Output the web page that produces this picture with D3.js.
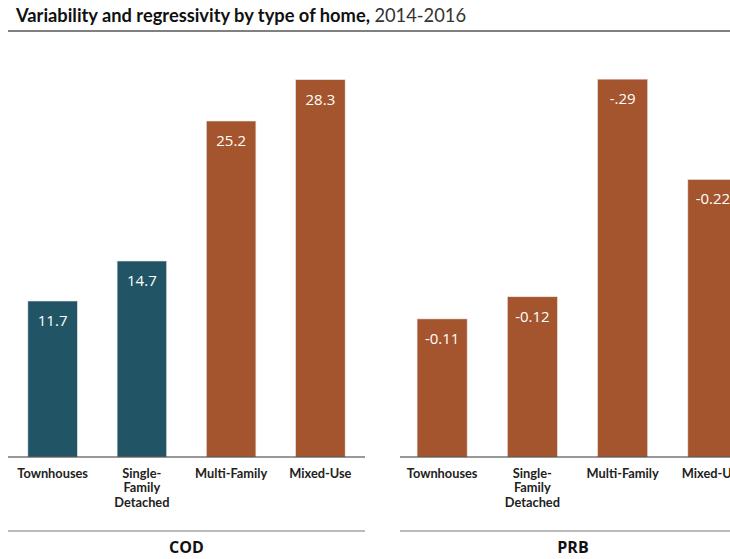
<!DOCTYPE html>
<html>
<head>
  <meta charset="utf-8">
  <script src="https://d3js.org/d3.v7.min.js"></script>
  <style>
    body { margin: 0; background: #fff; }
  </style>
</head>
<body>
<script>

  // categories shared by both panels
  var categories = ["Townhouses", "Single-Family Detached", "Multi-Family", "Mixed-Use"];
  var categoryLines = [["Townhouses"], ["Single-", "Family", "Detached"], ["Multi-Family"], ["Mixed-Use"]];

  // COD panel
  var codValues = [11.7, 14.7, 25.2, 28.3];
  var codLabels = ["11.7", "14.7", "25.2", "28.3"];
  var codColors = ["#215566", "#215566", "#a5552d", "#a5552d"];

  // PRB panel (negative, drawn by magnitude)
  var prbValues = [-0.106, -0.123, -0.29, -0.213];
  var prbLabels = ["-0.11", "-0.12", "-.29", "-0.22"];
  var prbColors = ["#a5552d", "#a5552d", "#a5552d", "#a5552d"];

  var width = 730, height = 559;
  var baseY = 457, topY = 57;
  var catFont = "'Lato', 'DejaVu Sans', sans-serif";

  var svg = d3.select("body").append("svg")
    .attr("width", width)
    .attr("height", height);

  // title
  var title = svg.append("text")
    .attr("x", 16)
    .attr("y", 22)
    .style("font-family", "'Lato', sans-serif")
    .style("font-size", "18.3px")
    .style("fill", "#111");
  title.append("tspan").style("font-weight", "bold").text("Variability and regressivity by type of home, ");
  title.append("tspan").style("font-weight", "normal").style("fill", "#333").text("2014-2016");

  svg.append("line")
    .attr("x1", 8).attr("x2", width)
    .attr("y1", 31).attr("y2", 31)
    .style("stroke", "#808080")
    .style("stroke-width", 2);

  function panel(opts) {
    var x = d3.scaleBand()
      .domain(categories)
      .range(opts.range)
      .paddingInner(0.445)
      .paddingOuter(0.2225);

    var y = d3.scaleLinear()
      .domain([0, opts.max])
      .range([baseY, topY]);

    var g = svg.append("g");

    g.selectAll("rect")
      .data(opts.values)
      .enter().append("rect")
      .attr("x", function(d, i) { return x(categories[i]); })
      .attr("width", x.bandwidth())
      .attr("y", function(d) { return y(Math.abs(d)); })
      .attr("height", function(d) { return baseY - y(Math.abs(d)); })
      .style("fill", function(d, i) { return opts.colors[i]; })
      .style("stroke", "#e6e6e6")
      .style("stroke-width", 0.6);

    g.selectAll("text.val")
      .data(opts.values)
      .enter().append("text")
      .attr("class", "val")
      .attr("x", function(d, i) { return x(categories[i]) + x.bandwidth() / 2; })
      .attr("y", function(d) { return y(Math.abs(d)) + 25; })
      .attr("text-anchor", "middle")
      .style("font-family", "'Open Sans', 'Noto Sans', sans-serif")
      .style("font-size", "15px")
      .style("fill", "#fff")
      .text(function(d, i) { return opts.labels[i]; });

    // baseline
    g.append("line")
      .attr("x1", opts.axis[0]).attr("x2", opts.axis[1])
      .attr("y1", baseY).attr("y2", baseY)
      .style("stroke", "#333")
      .style("stroke-width", 1);

    // category labels
    categories.forEach(function(c, i) {
      var t = g.append("text")
        .attr("x", x(c) + x.bandwidth() / 2)
        .attr("y", 477.5)
        .attr("text-anchor", "middle")
        .style("font-family", catFont)
        .style("font-size", "12.8px")
        .style("font-weight", "bold")
        .style("fill", "#222");
      categoryLines[i].forEach(function(line, j) {
        t.append("tspan")
          .attr("x", x(c) + x.bandwidth() / 2)
          .attr("dy", j === 0 ? 0 : 14.5)
          .text(line);
      });
    });

    // lower rule and panel name
    g.append("line")
      .attr("x1", opts.axis[0]).attr("x2", opts.rule)
      .attr("y1", 531).attr("y2", 531)
      .style("stroke", "#bbb")
      .style("stroke-width", 2);

    g.append("text")
      .attr("x", (opts.axis[0] + opts.rule) / 2)
      .attr("y", 553)
      .attr("text-anchor", "middle")
      .style("font-family", "'Open Sans', 'Noto Sans', sans-serif")
      .style("font-size", "16px")
      .style("font-weight", "bold")
      .style("fill", "#111")
      .text(opts.name);
  }

  panel({name: "COD", values: codValues, labels: codLabels, colors: codColors,
    max: 30, range: [8, 365], axis: [8, 365], rule: 365});

  panel({name: "PRB", values: prbValues, labels: prbLabels, colors: prbColors,
    max: 0.307, range: [397, 758], axis: [400, 758], rule: 746});

</script>
</body>
</html>
